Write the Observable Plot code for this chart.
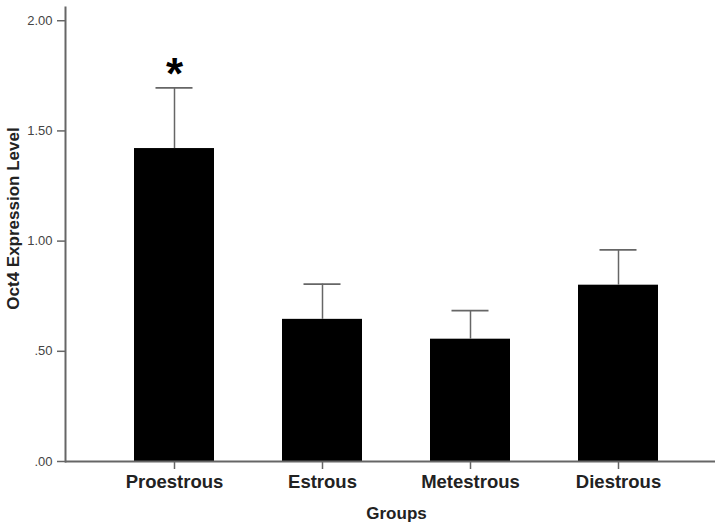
<!DOCTYPE html>
<html>
<head>
<meta charset="utf-8">
<script src="https://cdn.jsdelivr.net/npm/d3@7"></script>
<script src="https://cdn.jsdelivr.net/npm/@observablehq/plot@0.6"></script>
<style>
  html, body { margin: 0; padding: 0; background: #fff; }
  #chart svg { display: block; }
</style>
</head>
<body>
<div id="chart"></div>
<script>
// Data
const groups = ["Proestrous", "Estrous", "Metestrous", "Diestrous"];
const means = [1.42, 0.645, 0.555, 0.80];
const errors = [0.275, 0.16, 0.13, 0.16];
const significance = ["*", "", "", ""];
const yTicks = [0, 0.5, 1, 1.5, 2];
const yTickLabels = [".00", ".50", "1.00", "1.50", "2.00"];
const xTitle = "Groups";
const yTitle = "Oct4 Expression Level";

const data = groups.map((g, i) => ({
  group: g,
  mean: means[i],
  upper: means[i] + errors[i],
  sig: significance[i]
}));

const font = "'Liberation Sans', Arial, sans-serif";
const axisGray = "#666";

const chart = Plot.plot({
  width: 718,
  height: 528,
  marginLeft: 65,
  marginRight: 3,
  marginTop: 7,
  marginBottom: 67,
  style: { fontFamily: font, background: "#fff", color: "#222" },
  x: { domain: groups, paddingInner: 0.462, paddingOuter: 0.417, align: 0.548, label: null },
  y: { domain: [0, 2.06], label: null },
  marks: [
    Plot.barY(data, { x: "group", y: "mean", fill: "#000" }),
    Plot.ruleX(data, { x: "group", y1: "mean", y2: "upper", stroke: axisGray, strokeWidth: 1.5 }),
    Plot.tickY(data, { x: "group", y: "upper", stroke: axisGray, strokeWidth: 1.8, insetLeft: 21.5, insetRight: 21.5 }),
    Plot.text(data, { x: "group", y: "upper", text: "sig", fontSize: 44, fontWeight: "bold", fill: "#000", dy: -13, lineAnchor: "middle" }),
    Plot.frame({ anchor: "left", stroke: axisGray, strokeWidth: 2 }),
    Plot.ruleY([0], { stroke: axisGray, strokeWidth: 2 }),
    Plot.axisY({
      ticks: yTicks,
      tickFormat: (d) => yTickLabels[yTicks.indexOf(d)],
      tickSize: 8, tickPadding: 5, fontSize: 13, stroke: axisGray, strokeWidth: 1.5,
      fill: "#444", label: null
    }),
    Plot.axisX({
      tickSize: 8, tickPadding: 5, fontSize: 18.5, fontWeight: "bold",
      stroke: axisGray, strokeWidth: 1.5, fill: "#222", label: null
    }),
    Plot.text([xTitle], { frameAnchor: "bottom", dx: 6, dy: 52, fontSize: 17, fontWeight: "bold", fill: "#222", lineAnchor: "middle" }),
    Plot.text([yTitle], { frameAnchor: "left", textAnchor: "middle", rotate: -90, dx: -52, dy: -16, fontSize: 17, fontWeight: "bold", fill: "#222", lineAnchor: "middle" })
  ]
});
document.getElementById("chart").appendChild(chart);
</script>
</body>
</html>
